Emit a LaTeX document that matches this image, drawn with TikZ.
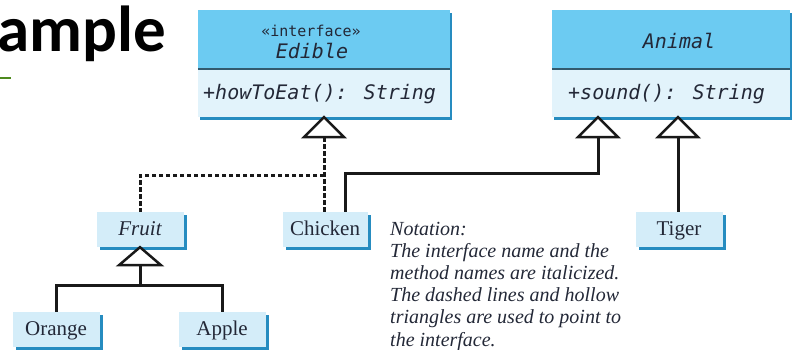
\documentclass[tikz,border=0pt]{standalone}
\usepackage{fontspec}
\setmainfont{Liberation Serif}
\newfontfamily\umlfont{DejaVu Sans Mono}
\newfontfamily\titlefont{Carlito}
\usetikzlibrary{calc,shadows}
\definecolor{hdr}{RGB}{108,203,242}
\definecolor{bdy}{RGB}{226,243,251}
\definecolor{sbox}{RGB}{212,237,249}
\definecolor{shd}{RGB}{38,140,192}
\definecolor{sepc}{RGB}{50,90,110}
\definecolor{ttl}{RGB}{78,138,30}
\definecolor{txt}{RGB}{35,40,55}
\tikzset{
  bigshadow/.style={drop shadow={opacity=1, fill=shd, shadow xshift=2pt, shadow yshift=-3pt}},
  hdrbox/.style={rectangle, fill=hdr, inner sep=0pt, minimum height=59pt, bigshadow},
  bdybox/.style={rectangle, fill=bdy, inner sep=0pt, minimum height=48pt, bigshadow},
  umltext/.style={inner sep=0pt, text=txt, font=\umlfont\fontsize{20}{22}\selectfont},
  clsbox/.style={rectangle, fill=sbox, inner sep=0pt, minimum width=87pt, minimum height=35pt,
    text height=15pt, text depth=3pt, text=txt, font=\fontsize{21}{24}\selectfont,
    drop shadow={opacity=1, fill=shd, shadow xshift=3pt, shadow yshift=-3pt}},
  conn/.style={line width=3pt, black!90},
  dconn/.style={conn, dash pattern=on 4.5pt off 2.5pt},
  tri/.style={draw=black!90, fill=white, line width=2.5pt, line join=miter},
  sepline/.style={draw=sepc, line width=1.5pt},
}
\begin{document}
\begin{tikzpicture}[x=1pt,y=-1pt]
\useasboundingbox (0,0) rectangle (793,349);
% title fragment
\node[anchor=base west, inner sep=0pt, font=\titlefont\bfseries\fontsize{65}{65}\selectfont] (title) at (-3,51) {ample};
\draw[ttl, line width=2.5pt] (0,78) -- (11,78);
% Edible interface
\node[hdrbox, minimum width=252pt] (eh) at (324,39.5) {};
\node[bdybox, minimum width=252pt] (eb) at (324,93) {};
\draw[sepline] (eh.south west) -- (eh.south east);
\node[umltext, anchor=base, font=\umlfont\fontsize{15}{18}\selectfont] (eht1) at (311,36) {«interface»};
\node[umltext, anchor=base, font=\umlfont\itshape\fontsize{20}{22}\selectfont] (eht2) at (312,58) {Edible};
\node[umltext, anchor=base west, font=\umlfont\itshape\fontsize{20}{22}\selectfont] (ebt) at (203,99.5) {+howToEat(): String};
% Animal class
\node[hdrbox, minimum width=238pt] (ah) at (671,39.5) {};
\node[bdybox, minimum width=238pt] (ab) at (671,93) {};
\draw[sepline] (ah.south west) -- (ah.south east);
\node[umltext, anchor=base, font=\umlfont\itshape\fontsize{20}{22}\selectfont] (aht) at (679,48) {Animal};
\node[umltext, anchor=base west, font=\umlfont\itshape\fontsize{20}{22}\selectfont] (abt) at (568,99.5) {+sound(): String};
% small classes
\node[clsbox, font=\itshape\fontsize{21}{24}\selectfont] (Fruit) at (140,229.5) {Fruit};
\node[clsbox, minimum width=85pt] (Chicken) at (325,229.5) {Chicken};
\node[clsbox] (Orange) at (56,329.5) {Orange};
\node[clsbox] (Apple) at (222,329.5) {Apple};
\node[clsbox] (Tiger) at (679,229.5) {Tiger};
% coordinates of triangle bases
\coordinate (eT) at ($(eb.south)+(0,20)$);
\coordinate (eJ) at ($(eT)+(0,38)$);
\coordinate (aA1) at ($(ab.south)+(-73,0)$);
\coordinate (aA2) at ($(ab.south)+(7,0)$);
\coordinate (aB1) at ($(aA1)+(0,20)$);
\coordinate (aB2) at ($(aA2)+(0,20)$);
\coordinate (fB) at ($(Fruit.south)+(0,18)$);
\coordinate (fJ) at ($(fB)+(0,20)$);
% connectors
\draw[dconn] (eT) -- (eT |- Chicken.north);
\draw[dconn] (eJ) -| (Fruit.north);
\draw[conn] ($(Chicken.north)+(20,0)$) -- ++(0,-38) -| (aB1);
\draw[conn] (aB2 |- Tiger.north) -- (aB2);
\draw[conn] (fB) -- (fJ);
\draw[conn] (Orange.north) |- (fJ) -| (Apple.north);
% triangles
\draw[tri] (eb.south) -- ++(20,20) -- ++(-40,0) -- cycle;
\draw[tri] (aA1) -- ++(20,20) -- ++(-40,0) -- cycle;
\draw[tri] (aA2) -- ++(20,20) -- ++(-40,0) -- cycle;
\draw[tri] (Fruit.south) -- ++(21,18) -- ++(-42,0) -- cycle;
% notation
\node[anchor=base west, inner sep=0pt, align=left, text=txt, font=\itshape\fontsize{20}{22.2}\selectfont] (note) at (390,346) {Notation:\\The interface name and the\\method names are italicized.\\The dashed lines and hollow\\triangles are used to point to\\the interface.};
\end{tikzpicture}
\end{document}
